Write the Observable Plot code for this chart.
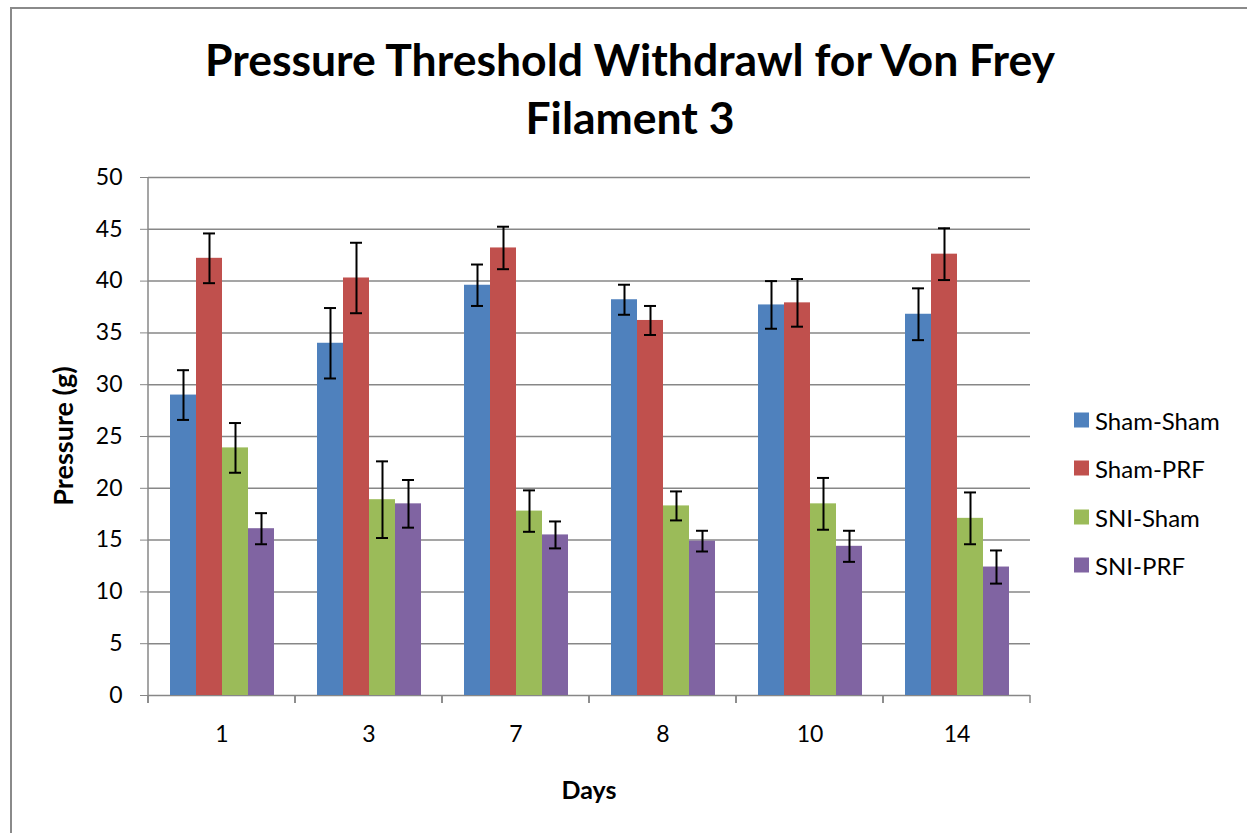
<!DOCTYPE html>
<html>
<head>
<meta charset="utf-8">
<script src="https://cdn.jsdelivr.net/npm/d3@7"></script>
<script src="https://cdn.jsdelivr.net/npm/@observablehq/plot@0.6"></script>
<style>
  html, body { margin: 0; padding: 0; background: #fff; }
  #wrap { position: relative; width: 1247px; height: 833px; overflow: hidden; font-family: "Lato", "Open Sans", sans-serif; color: #000; }
  #border { position: absolute; left: 10px; top: 7px; width: 1400px; height: 1000px; border-left: 2px solid #8a8a8a; border-top: 2px solid #8a8a8a; }
  #title { position: absolute; left: 80px; width: 1100px; top: 30px; text-align: center; font-weight: bold; font-size: 44.5px; line-height: 58px; }
  #chart { position: absolute; left: 0; top: 150px; }
  #ylabel { position: absolute; left: 62px; top: 436px; transform: translate(-50%, -50%) rotate(-90deg); font-weight: bold; font-size: 27px; white-space: nowrap; }
  #xlabel { position: absolute; left: 589px; top: 789px; transform: translate(-50%, -50%); font-weight: bold; font-size: 25px; }
  #legend { position: absolute; left: 1074px; top: 0; }
  .item { position: absolute; left: 0; display: flex; align-items: center; white-space: nowrap; font-size: 24px; transform: translateY(-50%); }
  .sw { width: 15px; height: 15px; margin-right: 6px; }
</style>
</head>
<body>
<div id="wrap">
  <div id="border"></div>
  <div id="title">Pressure Threshold Withdrawl for Von Frey<br>Filament 3</div>
  <div id="chart"></div>
  <div id="ylabel">Pressure (g)</div>
  <div id="xlabel">Days</div>
  <div id="legend"></div>
</div>
<script>
const days = ["1", "3", "7", "8", "10", "14"];
const series = ["Sham-Sham", "Sham-PRF", "SNI-Sham", "SNI-PRF"];
const colors = ["#4F81BD", "#C0504D", "#9BBB59", "#8064A2"];
const yTicks = [0, 5, 10, 15, 20, 25, 30, 35, 40, 45, 50];

const shamSham = [29.0, 34.0, 39.6, 38.2, 37.7, 36.8];
const shamPRF  = [42.2, 40.3, 43.2, 36.2, 37.9, 42.6];
const sniSham  = [23.9, 18.9, 17.8, 18.3, 18.5, 17.1];
const sniPRF   = [16.1, 18.5, 15.5, 14.9, 14.4, 12.4];

const shamShamErr = [2.4, 3.4, 2.0, 1.45, 2.3, 2.5];
const shamPRFErr  = [2.4, 3.4, 2.05, 1.4, 2.3, 2.5];
const sniShamErr  = [2.4, 3.7, 2.0, 1.4, 2.5, 2.5];
const sniPRFErr   = [1.5, 2.3, 1.3, 1.0, 1.5, 1.6];

const values = [shamSham, shamPRF, sniSham, sniPRF];
const errors = [shamShamErr, shamPRFErr, sniShamErr, sniPRFErr];

const rows = [];
days.forEach((day, i) => {
  series.forEach((s, j) => {
    rows.push({day, series: s, value: values[j][i], lo: values[j][i] - errors[j][i], hi: values[j][i] + errors[j][i]});
  });
});

const axisColor = "#878787";

function boundaryTicks(index, scales, vals, dims) {
  const g = d3.create("svg:g");
  const x = scales.x, y = scales.y;
  const [x0, x1] = x.range();
  const yb = y(0);
  for (const xx of [x0, x1]) {
    g.append("line").attr("x1", xx).attr("x2", xx).attr("y1", yb).attr("y2", yb + 8)
      .attr("stroke", axisColor).attr("stroke-width", 1.5);
  }
  if (index.length && days[index[0]] === days[0]) {
    g.append("line").attr("x1", x0).attr("x2", x0).attr("y1", y(yTicks[yTicks.length - 1])).attr("y2", yb + 8)
      .attr("stroke", axisColor).attr("stroke-width", 1.5);
  }
  return g.node();
}

const chart = Plot.plot({
  width: 1060,
  height: 665,
  marginLeft: 148,
  marginRight: 30,
  marginTop: 27,
  marginBottom: 120,
  style: {fontFamily: "Lato, 'Open Sans', sans-serif", fontSize: "23px", color: "#000", background: "transparent", overflow: "visible"},
  fx: {domain: days, padding: 0, label: null},
  x: {domain: series, paddingInner: 0, paddingOuter: 0.75, axis: null},
  y: {domain: [0, 50], label: null},
  color: {domain: series, range: colors},
  marks: [
    Plot.gridY(yTicks, {stroke: axisColor, strokeOpacity: 1, strokeWidth: 1.5}),
    Plot.axisY(yTicks, {tickSize: 8, tickPadding: 18, stroke: axisColor, strokeOpacity: 1, label: null, fontSize: 23}),
    Plot.axisFx({anchor: "bottom", tickSize: 0, tickPadding: 30, label: null, fontSize: 23}),
    Plot.barY(rows, {fx: "day", x: "series", y: "value", fill: "series"}),
    Plot.ruleX(rows, {fx: "day", x: "series", y1: "lo", y2: "hi", stroke: "#000", strokeWidth: 2}),
    Plot.tickY(rows, {fx: "day", x: "series", y: "hi", stroke: "#000", strokeWidth: 2, insetLeft: 7, insetRight: 7}),
    Plot.tickY(rows, {fx: "day", x: "series", y: "lo", stroke: "#000", strokeWidth: 2, insetLeft: 7, insetRight: 7}),
    Plot.ruleY(days, {fx: d => d, y: () => 0, stroke: axisColor, strokeWidth: 1.5, render: boundaryTicks})
  ]
});
document.getElementById("chart").appendChild(chart);

const legendCenters = [420, 468, 517, 565];
const legend = document.getElementById("legend");
series.forEach((s, j) => {
  const item = document.createElement("div");
  item.className = "item";
  item.style.top = legendCenters[j] + "px";
  const sw = document.createElement("div");
  sw.className = "sw";
  sw.style.background = colors[j];
  const t = document.createElement("span");
  t.textContent = s;
  item.appendChild(sw);
  item.appendChild(t);
  legend.appendChild(item);
});
</script>
</body>
</html>
